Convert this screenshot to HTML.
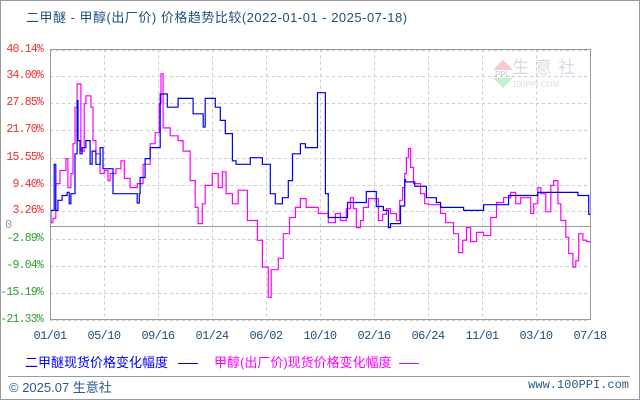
<!DOCTYPE html>
<html><head><meta charset="utf-8"><style>
body{margin:0;background:#fff;}
#wrap{position:relative;width:640px;height:400px;overflow:hidden;font-family:"Liberation Sans","Noto Sans CJK SC",sans-serif;}
.t{position:absolute;white-space:nowrap;}
</style></head><body>
<div id="wrap">
<svg id="svg" width="640" height="400" style="position:absolute;left:0;top:0">
<rect x="0.5" y="0.5" width="639" height="399" fill="none" stroke="#999"/>
<g id="grid"></g>
<g opacity="0.35">
<polygon points="493,70 503,60 513,70" fill="#e66"/>
<polygon points="493,78 503,88 513,78" fill="#6c6"/>
<text x="495" y="77" font-size="8" fill="#558" font-family="Liberation Sans">PPI</text>
<text x="512" y="73" font-size="17" fill="#8899bb" font-family="Noto Sans CJK SC" letter-spacing="6">生意社</text>
<text x="512" y="87" font-size="8" fill="#99a" font-family="Liberation Sans">100PPI.COM</text>
</g>
<g id="series"></g>
<rect x="50.5" y="49.5" width="540" height="270" fill="none" stroke="#999"/>
<line x1="8" y1="376.5" x2="630" y2="376.5" stroke="#999"/>
</svg>
<div class="t" style="left:26px;top:7px;font-size:13px;letter-spacing:0.5px;color:#1e5080;">二甲醚 - 甲醇(出厂价) 价格趋势比较(2022-01-01 - 2025-07-18)</div>
<div id="ylab"></div><div id="xlab"></div>
<div class="t" style="left:25px;top:352px;font-size:13px;color:#0000ee;">二甲醚现货价格变化幅度 <span style="display:inline-block;width:20px;border-top:1px solid #0000ee;vertical-align:middle;margin-left:6px"></span></div>
<div class="t" style="left:214px;top:352px;font-size:13px;color:#ff00ff;">甲醇(出厂价)现货价格变化幅度 <span style="display:inline-block;width:20px;border-top:1px solid #ff00ff;vertical-align:middle;margin-left:4px"></span></div>
<div class="t" style="left:9px;top:377px;font-size:13px;color:#2a5a88;">© 2025.07 生意社</div>
<div class="t" style="right:11px;top:378px;font-size:12px;color:#2a5a88;font-family:'Liberation Mono',monospace;">www.100PPI.com</div>
</div>
<script>
const yTicks=[40.14,34.00,27.85,21.70,15.55,9.40,3.26,-2.89,-9.04,-15.19,-21.33];
const yTickLabels=["40.14%","34.00%","27.85%","21.70%","15.55%","9.40%","3.26%","-2.89%","-9.04%","-15.19%","-21.33%"];
const xTickLabels=["01/01","05/10","09/16","01/24","06/02","10/10","02/16","06/24","11/01","03/10","07/18"];
const totalDays=1294;
const dmeDays=[0,2,10,14,19,29,41,46,50,60,65,67,72,77,86,96,101,110,120,127,151,209,214,216,228,240,264,281,307,343,367,372,396,408,420,437,446,480,509,528,540,557,571,581,600,612,641,660,667,713,758,782,799,811,816,840,850,852,874,902,926,936,991,1039,1099,1169,1265,1291];
const dmeVals=[0.7,3.5,14,3.5,5.8,6.9,7.6,5,7.3,16.4,28.5,19.4,16.4,17.8,19.4,14,17,14,17.8,13,7.3,5.2,7.3,11,15.3,17.8,30,27,29,25.5,22.5,29,27,24,21,14.8,14,15.5,14,7.3,5,6.4,10.3,16.4,18.7,17.8,30.3,7.3,1.9,5.3,7.8,4.4,3.5,-0.4,0.5,4.5,10.5,10,9,6.4,5.3,4.2,3.5,4.8,6.9,7.6,6.9,2.6];
const methDays=[0,7,14,24,38,43,50,55,60,65,74,82,86,98,103,110,120,130,139,144,158,170,178,192,209,223,240,252,262,266,271,288,307,319,336,348,355,365,372,389,403,413,422,437,451,473,497,509,523,530,547,559,574,588,600,614,643,667,684,696,710,720,727,734,744,751,763,787,797,806,816,830,838,845,850,854,859,864,871,888,898,907,936,948,967,979,989,998,1008,1022,1039,1056,1070,1087,1104,1116,1128,1152,1159,1169,1176,1188,1200,1207,1217,1224,1236,1243,1253,1260,1267,1277,1286];
const methVals=[0.7,1.7,9.6,12.6,15.3,8.7,11.9,18.7,27,32.3,17,27.8,29.6,27,19.4,16.4,11.9,12.6,10.3,11.9,13,14.8,10.8,8.7,9.6,14,18.7,21.2,27.8,34.6,22.3,20.5,19.4,17,10.3,4.2,0.5,5,9.2,11.9,8.7,12.3,7.3,5,8.1,1.2,-3.3,-9.4,-16.3,-10,-7.4,-1.8,1.9,4.2,6.2,4.2,2.8,0.7,2.8,1.2,3.9,6.4,3.9,-0.4,1.2,4.2,6.2,1.2,2.6,3.9,2.8,1.2,5.8,8.7,11.9,15.5,17.6,13.3,9.6,7.3,5,4.8,2.8,0.7,-1.8,-6.1,-3.3,-0.4,-3.6,-1.5,-2.2,1.9,5.3,6.4,7.6,5,6.4,2.8,5,8.7,7.3,3.2,9.2,10.3,5,1.2,-2.6,-6.3,-9.4,-8,-1.8,-3.3,-3.6];
const L=50,R=590,T=49.5,B=319.5,yMax=40.14,yMin=-21.33;
const xs=d=>L+d/totalDays*(R-L);
const ys=v=>T+(yMax-v)/(yMax-yMin)*(B-T);
const NS="http://www.w3.org/2000/svg";
const grid=document.getElementById('grid');
yTicks.forEach((v,i)=>{
  const l=document.createElementNS(NS,'line');
  
  
  const y=Math.round(ys(v))+0.5;
  l.setAttribute('x1',L);l.setAttribute('x2',R);l.setAttribute('y1',y);l.setAttribute('y2',y);
  l.setAttribute('stroke','#ccc');l.setAttribute('stroke-dasharray','3,3');
  grid.appendChild(l);
  const t=document.createElement('div');
  
  
  t.className='t';t.textContent=yTickLabels[i];
  t.style.cssText=`right:${640-43}px;top:${y-8}px;font-size:11.5px;font-family:'Liberation Mono',monospace;letter-spacing:-0.8px;color:${v>0?'#e83030':'#30a030'}`;
  document.getElementById('ylab').appendChild(t);
});
{const z=document.createElement('div');


z.className='t';z.textContent='0';
z.style.cssText=`left:5px;top:${ys(0)-8}px;font-size:12px;font-family:'Liberation Mono',monospace;color:#999`;
document.getElementById('ylab').appendChild(z);}
xTickLabels.forEach((s,i)=>{
  const x=L+i*(R-L)/(xTickLabels.length-1);
  if(i>0&&i<xTickLabels.length-1){
  const l=document.createElementNS(NS,'line');
  
  
  l.setAttribute('x1',Math.round(x)+0.5);l.setAttribute('x2',Math.round(x)+0.5);l.setAttribute('y1',T);l.setAttribute('y2',B);
  l.setAttribute('stroke','#ccc');l.setAttribute('stroke-dasharray','3,3');
  grid.appendChild(l);}
  const t=document.createElement('div');
  
  
  t.className='t';t.textContent=s;
  t.style.cssText=`left:${x-17}px;width:34px;text-align:center;top:329px;font-size:12px;font-family:'Liberation Mono',monospace;letter-spacing:-0.6px;color:#1e5080`;
  document.getElementById('xlab').appendChild(t);
});
{const z=document.createElementNS(NS,'line');


const y=Math.round(ys(0))+0.5;
z.setAttribute('x1',L);z.setAttribute('x2',R);z.setAttribute('y1',y);z.setAttribute('y2',y);z.setAttribute('stroke','#999');
grid.appendChild(z);}
function step(days,vals,color,name){
  let d='';
  for(let i=0;i<days.length;i++){
    const x=xs(days[i]).toFixed(1),y=ys(vals[i]).toFixed(1);
    if(i===0)d+=`M${x},${y}`;else d+=`H${x}V${y}`;
  }
  d+=`H${xs(totalDays).toFixed(1)}`;
  const p=document.createElementNS(NS,'path');
  
  
  p.setAttribute('d',d);p.setAttribute('fill','none');p.setAttribute('stroke',color);p.setAttribute('stroke-width','1.2');
  document.getElementById('series').appendChild(p);
}
step(methDays,methVals,'#ff00ff','methanol-line');
step(dmeDays,dmeVals,'#0000ee','dme-line');
</script>
</body></html>
